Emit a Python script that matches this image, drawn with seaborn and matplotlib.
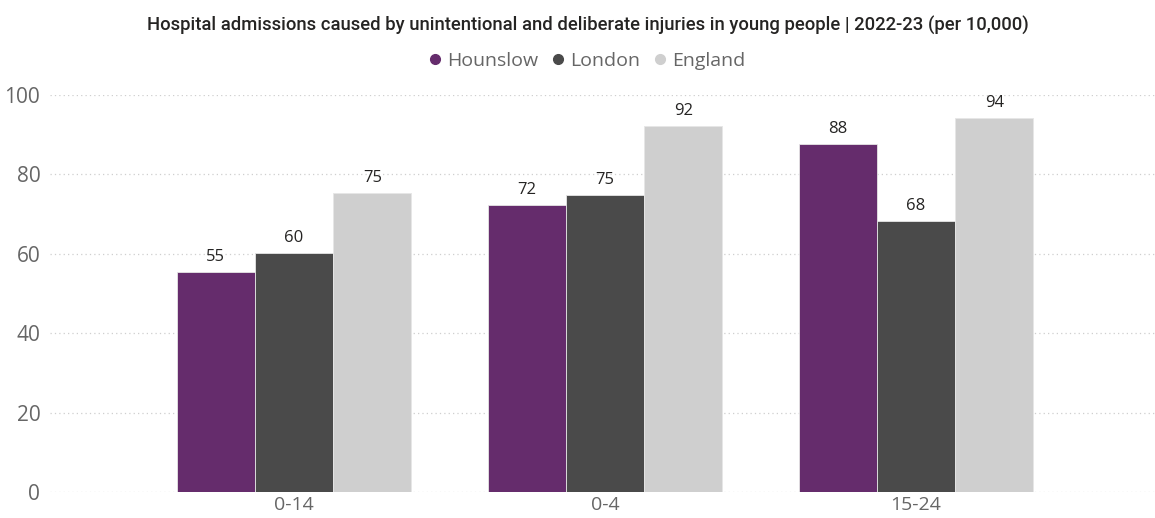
import pandas as pd
import matplotlib.pyplot as plt
import seaborn as sns
from matplotlib.lines import Line2D

# Data
age_groups = ['0-14', '0-4', '15-24']
areas = ['Hounslow', 'London', 'England']
hounslow = [55.4, 72.4, 87.6]
london = [60.2, 74.8, 68.2]
england = [75.4, 92.2, 94.2]
colors = ['#652C6C', '#4A4A4A', '#CFCFCF']

df = pd.DataFrame({
    'Age': age_groups * 3,
    'Area': [a for a in areas for _ in age_groups],
    'Rate': hounslow + london + england,
})

sns.set_theme(style='white')
plt.rcParams['font.family'] = ['Open Sans', 'DejaVu Sans']

fig = plt.figure(figsize=(11.55, 5.18), dpi=100)
ax = fig.add_axes([50 / 1155, 26 / 518, 1 - 50 / 1155, (492 - 95) / 518])

sns.barplot(data=df, x='Age', y='Rate', hue='Area', order=age_groups,
            hue_order=areas, palette=colors, saturation=1, width=0.755, gap=0,
            edgecolor='#e6e6e6', linewidth=0.6, legend=False, ax=ax, zorder=2)

# Value labels
for cont in ax.containers:
    ax.bar_label(cont, labels=[f'{v:.0f}' for v in cont.datavalues],
                 padding=5, fontsize=12, color='#252423')

ax.set_ylim(0, 100)
ax.set_xlim((50 - 294) / 311, (1155 - 294) / 311)
ax.set_yticks(range(0, 101, 20))
ax.yaxis.grid(True, linestyle=(0, (1, 2.5)), color='#cfcfcf', linewidth=0.9, zorder=0)
ax.set_axisbelow(True)
ax.tick_params(axis='both', length=0, labelsize=14, labelcolor='#666666')
ax.tick_params(axis='y', labelsize=15, pad=7)
ax.tick_params(axis='x', pad=3)
ax.set_xlabel('')
ax.set_ylabel('')
for s in ax.spines.values():
    s.set_visible(False)

fig.text(0.509, 0.950,
         'Hospital admissions caused by unintentional and deliberate injuries in young people | 2022-23 (per 10,000)',
         ha='center', va='center', fontsize=13.3, color='#252423', weight='medium',
         family=['Roboto', 'DejaVu Sans'])

handles = [Line2D([], [], marker='o', linestyle='', color=c, markersize=7) for c in colors]
fig.legend(handles, areas, loc='center', bbox_to_anchor=(0.508, 0.882), ncol=3,
           frameon=False, fontsize=14, handlelength=0.7, handletextpad=0.25,
           columnspacing=0.7, labelcolor='#666666')

fig.savefig('out.png', dpi=100)
plt.close(fig)
